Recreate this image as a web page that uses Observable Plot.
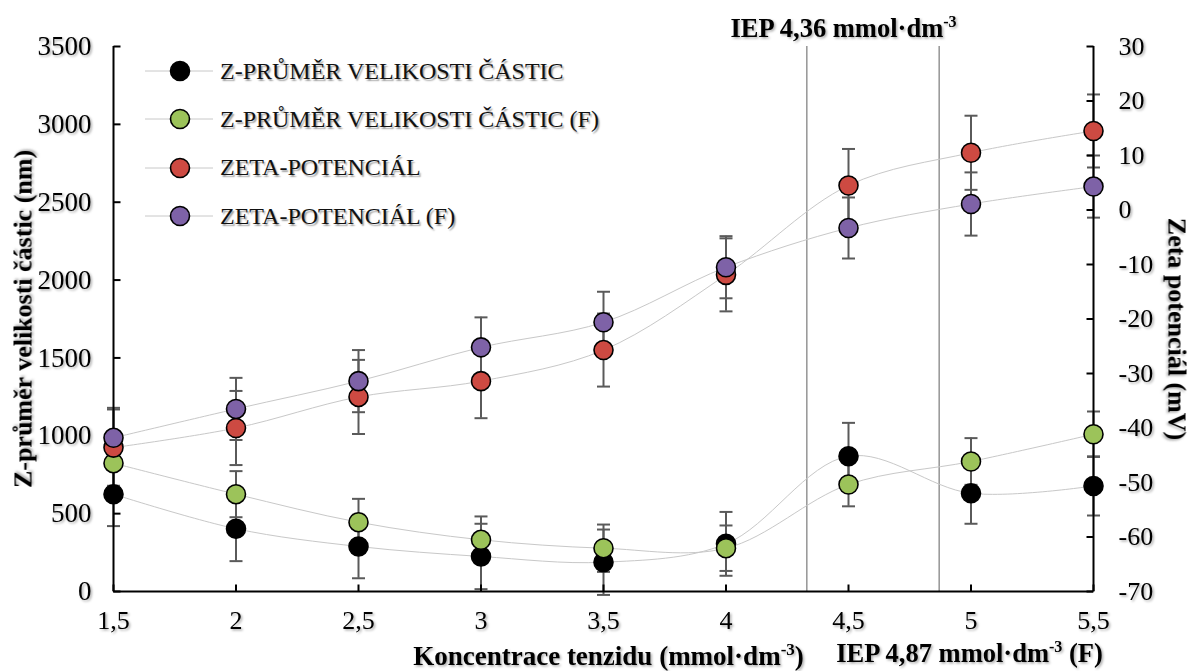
<!DOCTYPE html>
<html>
<head>
<meta charset="utf-8">
<script src="https://cdn.jsdelivr.net/npm/d3@7"></script>
<script src="https://cdn.jsdelivr.net/npm/@observablehq/plot@0.6"></script>
<style>
  body { margin: 0; background: #fff; }
  #wrap { position: relative; width: 1190px; height: 671px; overflow: hidden; background: #fff; }
  #legend { position: absolute; left: 145px; top: 47px; font-family: "Liberation Serif", serif; font-size: 24px; color: #111;
            text-shadow: 1.5px 1.5px 1.5px rgba(0,0,0,0.38); }
  .row { display: flex; align-items: center; height: 48.3px; }
  .row span { margin-left: 7px; white-space: nowrap; }
</style>
</head>
<body>
<div id="wrap"></div>
<script>
// ---- data ----
const concentration = [1.5, 2, 2.5, 3, 3.5, 4, 4.5, 5, 5.5];          // mmol·dm-3
const zAverage      = [625, 403, 289, 225, 188, 306, 869, 631, 678];     // nm
const zAverageErr   = [205, 208, 204, 210, 210, 205, 214, 196, 190];
const zAverageF     = [824, 625, 445, 332, 278, 278, 687, 835, 1010];    // nm
const zAverageFErr  = [170, 148, 150, 150, 152, 146, 140, 150, 146];
const zeta          = [-43.6, -40.0, -34.3, -31.4, -25.7, -11.9, 4.5, 10.5, 14.5]; // mV
const zetaErr       = [7.0, 6.8, 6.8, 6.8, 6.7, 6.7, 6.7, 6.8, 6.7];
const zetaF         = [-41.8, -36.5, -31.4, -25.2, -20.6, -10.5, -3.3, 1.1, 4.3];  // mV
const zetaFErr      = [5.5, 5.7, 5.7, 5.5, 5.6, 5.7, 5.6, 5.8, 5.7];

const seriesNames = ["Z-PRŮMĚR VELIKOSTI ČÁSTIC", "Z-PRŮMĚR VELIKOSTI ČÁSTIC (F)", "ZETA-POTENCIÁL", "ZETA-POTENCIÁL (F)"];
const seriesColors = ["#000000", "#9cc35a", "#cd4a42", "#7e62a7"];

const sizeTicks = [0, 500, 1000, 1500, 2000, 2500, 3000, 3500];
const zetaTicks = [-70, -60, -50, -40, -30, -20, -10, 0, 10, 20, 30];
const xTicks = [1.5, 2, 2.5, 3, 3.5, 4, 4.5, 5, 5.5];
const iepLines = [4.33, 4.87];

const xTitle = "Koncentrace tenzidu (mmol·dm{-3})";
const yLeftTitle = "Z-průměr velikosti částic (nm)";
const yRightTitle = "Zeta potenciál (mV)";
const iepTopLabel = "IEP 4,36 mmol·dm{-3}";
const iepBottomLabel = "IEP 4,87 mmol·dm{-3} (F)";

// zeta (mV, -70..30) mapped onto the size axis (0..3500)
const zMin = -70, zMax = 30, sMax = 3500;
const k = sMax / (zMax - zMin);
const toLeft = (z) => (z - zMin) * k;
const fromLeft = (v) => v / k + zMin;

// ---- table ----
const table = [];
const addSeries = (name, vals, errs, conv) => {
  concentration.forEach((c, i) => {
    table.push({series: name, x: c, y: conv(vals[i]), err: conv(vals[i] + errs[i]) - conv(vals[i])});
  });
};
addSeries(seriesNames[0], zAverage, zAverageErr, (v) => v);
addSeries(seriesNames[1], zAverageF, zAverageFErr, (v) => v);
addSeries(seriesNames[2], zeta, zetaErr, toLeft);
addSeries(seriesNames[3], zetaF, zetaFErr, toLeft);

// ---- custom symbols ----
const capSym = {draw(ctx) { ctx.moveTo(-6.5, 0); ctx.lineTo(6.5, 0); }};
const tickUp = {draw(ctx) { ctx.moveTo(0, 0); ctx.lineTo(0, -7); }};
const tickRight = {draw(ctx) { ctx.moveTo(0, 0); ctx.lineTo(7, 0); }};
const tickLeft = {draw(ctx) { ctx.moveTo(0, 0); ctx.lineTo(-7, 0); }};

const fmt = (d) => String(d).replace(".", ",");

const chart = Plot.plot({
  width: 1190,
  height: 671,
  marginLeft: 113,
  marginRight: 97,
  marginTop: 46,
  marginBottom: 80,
  style: {fontFamily: "Liberation Serif, serif", fontSize: "26px", background: "#fff", color: "#000", overflow: "visible"},
  x: {domain: [concentration[0], concentration[concentration.length - 1]]},
  y: {domain: [sizeTicks[0], sizeTicks[sizeTicks.length - 1]]},
  color: {domain: seriesNames, range: seriesColors},
  marks: [
    Plot.ruleX(iepLines, {stroke: "#7a7a7a", strokeWidth: 1.2}),
    Plot.line(table, {x: "x", y: "y", z: "series", stroke: "#c8c8c8", strokeWidth: 1, curve: "catmull-rom"}),
    Plot.ruleX(table, {x: "x", y1: (d) => d.y - d.err, y2: (d) => d.y + d.err, stroke: "#5a5a5a", strokeWidth: 2}),
    Plot.dot(table, {x: "x", y: (d) => d.y + d.err, symbol: capSym, fill: "none", stroke: "#5a5a5a", strokeWidth: 2}),
    Plot.dot(table, {x: "x", y: (d) => d.y - d.err, symbol: capSym, fill: "none", stroke: "#5a5a5a", strokeWidth: 2}),
    // axis lines and inward ticks
    Plot.ruleY([sizeTicks[0]], {stroke: "#000", strokeWidth: 2}),
    Plot.ruleX([concentration[0], concentration[concentration.length - 1]], {stroke: "#000", strokeWidth: 2}),
    Plot.dot(sizeTicks, {y: (d) => d, frameAnchor: "left", symbol: tickRight, fill: "none", stroke: "#000", strokeWidth: 2}),
    Plot.dot(zetaTicks, {y: (d) => toLeft(d), frameAnchor: "right", symbol: tickLeft, fill: "none", stroke: "#000", strokeWidth: 2}),
    Plot.dot(xTicks, {x: (d) => d, frameAnchor: "bottom", symbol: tickUp, fill: "none", stroke: "#000", strokeWidth: 2}),
    // markers
    Plot.dot(table, {x: "x", y: "y", fill: "series", r: 9.5, stroke: "#000", strokeWidth: 1.6}),
    // axes
    Plot.axisX(xTicks, {anchor: "bottom", tickSize: 0, tickPadding: 19, tickFormat: fmt, label: null, fontSize: 26}),
    Plot.axisY(sizeTicks, {anchor: "left", tickSize: 0, tickPadding: 22, tickFormat: fmt, label: null, fontSize: 27}),
    Plot.axisY(zetaTicks.map(toLeft), {anchor: "right", tickSize: 0, tickPadding: 25, tickFormat: (d) => String(Math.round(fromLeft(d))), label: null, fontSize: 26}),
    // titles
    Plot.text([yLeftTitle], {frameAnchor: "left", rotate: -90, dx: -90, dy: 0, fontWeight: "bold", fontSize: 26, lineAnchor: "middle", textAnchor: "middle"}),
    Plot.text([yRightTitle], {frameAnchor: "right", rotate: 90, dx: 83, dy: 10, fontWeight: "bold", fontSize: 26, lineAnchor: "middle", textAnchor: "middle"}),
    Plot.text([xTitle], {frameAnchor: "bottom", dx: 5, dy: 73, fontWeight: "bold", fontSize: 27, lineAnchor: "bottom", textAnchor: "middle"}),
    Plot.text([iepTopLabel], {frameAnchor: "top", dx: 240, dy: -10, fontWeight: "bold", fontSize: 26.5, lineAnchor: "bottom", textAnchor: "middle"}),
    Plot.text([iepBottomLabel], {frameAnchor: "bottom", dx: 366, dy: 70, fontWeight: "bold", fontSize: 26.5, lineAnchor: "bottom", textAnchor: "middle"})
  ]
});

// superscripts "{...}" -> tspans
const NS = "http://www.w3.org/2000/svg";
chart.querySelectorAll("text").forEach((t) => {
  const s = t.textContent;
  const m = s.match(/^(.*)\{([^}]*)\}(.*)$/);
  if (!m) return;
  const fs = parseFloat(t.closest("[font-size]")?.getAttribute("font-size")) || 26;
  const shift = Math.round(fs * 0.36);
  t.textContent = "";
  const a = document.createElementNS(NS, "tspan"); a.textContent = m[1]; t.appendChild(a);
  const b = document.createElementNS(NS, "tspan"); b.textContent = m[2];
  b.setAttribute("font-size", Math.round(fs * 0.62)); b.setAttribute("dy", -shift); t.appendChild(b);
  if (m[3]) { const c = document.createElementNS(NS, "tspan"); c.textContent = m[3]; c.setAttribute("dy", shift); t.appendChild(c); }
});

// soft drop shadow on text like the reference
const defs = document.createElementNS(NS, "defs");
defs.innerHTML = '<filter id="tshadow" x="-10%" y="-30%" width="130%" height="160%"><feDropShadow dx="1.5" dy="1.5" stdDeviation="1" flood-color="#000" flood-opacity="0.33"/></filter>';
chart.insertBefore(defs, chart.firstChild);
chart.querySelectorAll("text").forEach((t) => t.setAttribute("filter", "url(#tshadow)"));

const wrap = document.getElementById("wrap");
wrap.appendChild(chart);

// legend overlay
const legend = document.createElement("div");
legend.id = "legend";
seriesNames.forEach((name, i) => {
  const row = document.createElement("div");
  row.className = "row";
  row.innerHTML = `<svg width="68" height="48" style="overflow:visible"><line x1="0" x2="68" y1="24" y2="24" stroke="#c8c8c8" stroke-width="1"/><circle cx="35" cy="24" r="9.5" fill="${seriesColors[i]}" stroke="#000" stroke-width="1.6"/></svg><span>${name}</span>`;
  legend.appendChild(row);
});
wrap.appendChild(legend);
</script>
</body>
</html>
